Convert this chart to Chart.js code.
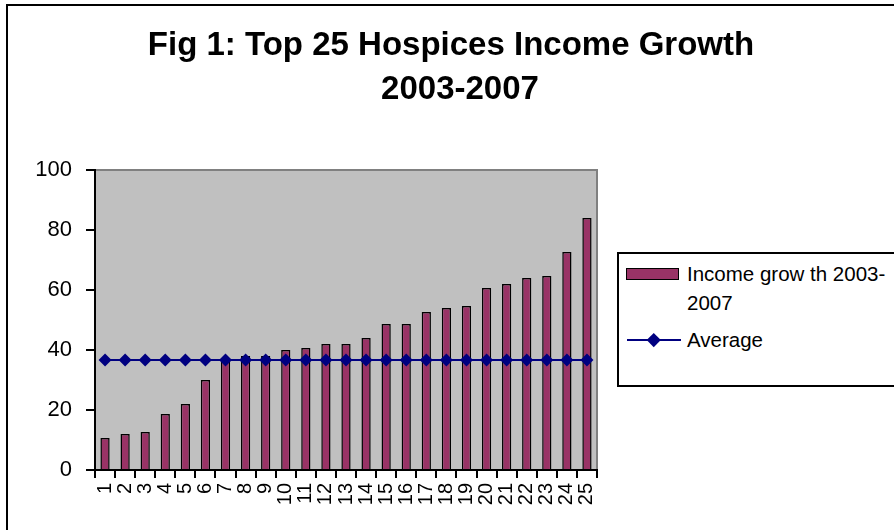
<!DOCTYPE html>
<html>
<head>
<meta charset="utf-8">
<script src="https://cdn.jsdelivr.net/npm/chart.js@4/dist/chart.umd.min.js"></script>
<style>
  html, body { margin:0; padding:0; background:#fff; }
  #wrap { position:relative; width:894px; height:530px; overflow:hidden; font-family:"Liberation Sans", Arial, sans-serif; }
  #frame { position:absolute; left:6px; top:4px; width:900px; height:540px; border-left:2px solid #000; border-top:2px solid #000; }
  canvas { position:absolute; left:0; top:0; }
  .title { position:absolute; left:0; font-weight:bold; font-size:33px; line-height:33px; text-align:center; color:#000; white-space:nowrap; }
  #legend { position:absolute; left:617px; top:252px; width:300px; height:131px; border:2px solid #000; background:#fff; }
  .lt { position:absolute; font-size:20.5px; line-height:20px; color:#000; white-space:nowrap; }
  #sw1 { position:absolute; left:7px; top:14px; width:51px; height:10px; background:#993366; border:1.5px solid #000; }
  #sw2 { position:absolute; left:8px; top:84.5px; width:54px; height:2px; background:#000080; }
  #dm { position:absolute; left:30px; top:80.5px; width:9.5px; height:9.5px; background:#000080; transform:rotate(45deg); }
</style>
</head>
<body>
<div id="wrap">
  <div id="frame"></div>
  <canvas id="c" width="894" height="530"></canvas>
  <div class="title" style="top:27px;width:902px;">Fig 1: Top 25 Hospices Income Growth</div>
  <div class="title" style="top:71px;width:920px;">2003-2007</div>
  <div id="legend">
    <div id="sw1"></div>
    <div class="lt" style="left:68px;top:10px;">Income grow th 2003-</div>
    <div class="lt" style="left:68px;top:39px;">2007</div>
    <div id="sw2"></div>
    <div id="dm"></div>
    <div class="lt" style="left:68px;top:76px;">Average</div>
  </div>
</div>
<script>
const categories = ["1","2","3","4","5","6","7","8","9","10","11","12","13","14","15","16","17","18","19","20","21","22","23","24","25"];
const incomeGrowth = [10.7, 12, 12.7, 18.7, 22, 30, 37.3, 38, 38, 40, 40.7, 42, 42, 44, 48.7, 48.7, 52.7, 54, 54.7, 60.7, 62, 64, 64.7, 72.7, 84];
const averageValues = [36.7, 36.7, 36.7, 36.7, 36.7, 36.7, 36.7, 36.7, 36.7, 36.7, 36.7, 36.7, 36.7, 36.7, 36.7, 36.7, 36.7, 36.7, 36.7, 36.7, 36.7, 36.7, 36.7, 36.7, 36.7];
const yTicks = [0, 20, 40, 60, 80, 100];

const plotBg = {
  id: 'plotBg',
  beforeDraw(chart) {
    const a = chart.chartArea, ctx = chart.ctx;
    ctx.save();
    ctx.fillStyle = '#c0c0c0';
    ctx.fillRect(a.left, a.top, a.right - a.left, a.bottom - a.top);
    ctx.strokeStyle = '#808080';
    ctx.lineWidth = 2;
    ctx.beginPath();
    ctx.moveTo(a.left, a.top);
    ctx.lineTo(a.right, a.top);
    ctx.lineTo(a.right, a.bottom);
    ctx.stroke();
    ctx.restore();
  }
};

Chart.defaults.font.family = '"Liberation Sans", Arial, sans-serif';
Chart.defaults.color = '#000';

new Chart(document.getElementById('c'), {
  data: {
    labels: categories,
    datasets: [
      {
        type: 'line',
        label: 'Average',
        data: averageValues,
        borderColor: '#000080',
        backgroundColor: '#000080',
        borderWidth: 2,
        pointStyle: 'rectRot',
        pointRadius: 6.5,
        pointBorderWidth: 0,
        order: 0
      },
      {
        type: 'bar',
        label: 'Income grow th 2003-2007',
        data: incomeGrowth,
        backgroundColor: '#993366',
        borderColor: '#000',
        borderWidth: 1.5,
        barPercentage: 0.46,
        categoryPercentage: 1,
        order: 1
      }
    ]
  },
  options: {
    responsive: false,
    animation: false,
    devicePixelRatio: 1,
    layout: { padding: { top: 170, right: 297, left: 0, bottom: 0 } },
    plugins: { legend: { display: false }, title: { display: false }, tooltip: { enabled: false } },
    scales: {
      x: {
        type: 'category',
        offset: true,
        grid: { offset: true, drawOnChartArea: false, drawTicks: true, tickLength: 8, color: '#000', lineWidth: 2 },
        border: { display: true, color: '#000', width: 2 },
        ticks: { font: { size: 20 }, color: '#000', minRotation: 90, maxRotation: 90, autoSkip: false, padding: 5 },
        afterFit(scale) { scale.height = 60; }
      },
      y: {
        min: 0, max: 100,
        afterBuildTicks(scale) { scale.ticks = yTicks.map(v => ({ value: v })); },
        grid: { drawOnChartArea: false, drawTicks: true, tickLength: 9, color: '#000', lineWidth: 2 },
        border: { display: true, color: '#000', width: 2 },
        ticks: { font: { size: 22 }, color: '#000', padding: 14 },
        afterFit(scale) { scale.width = 95; }
      }
    }
  },
  plugins: [plotBg]
});
</script>
</body>
</html>
